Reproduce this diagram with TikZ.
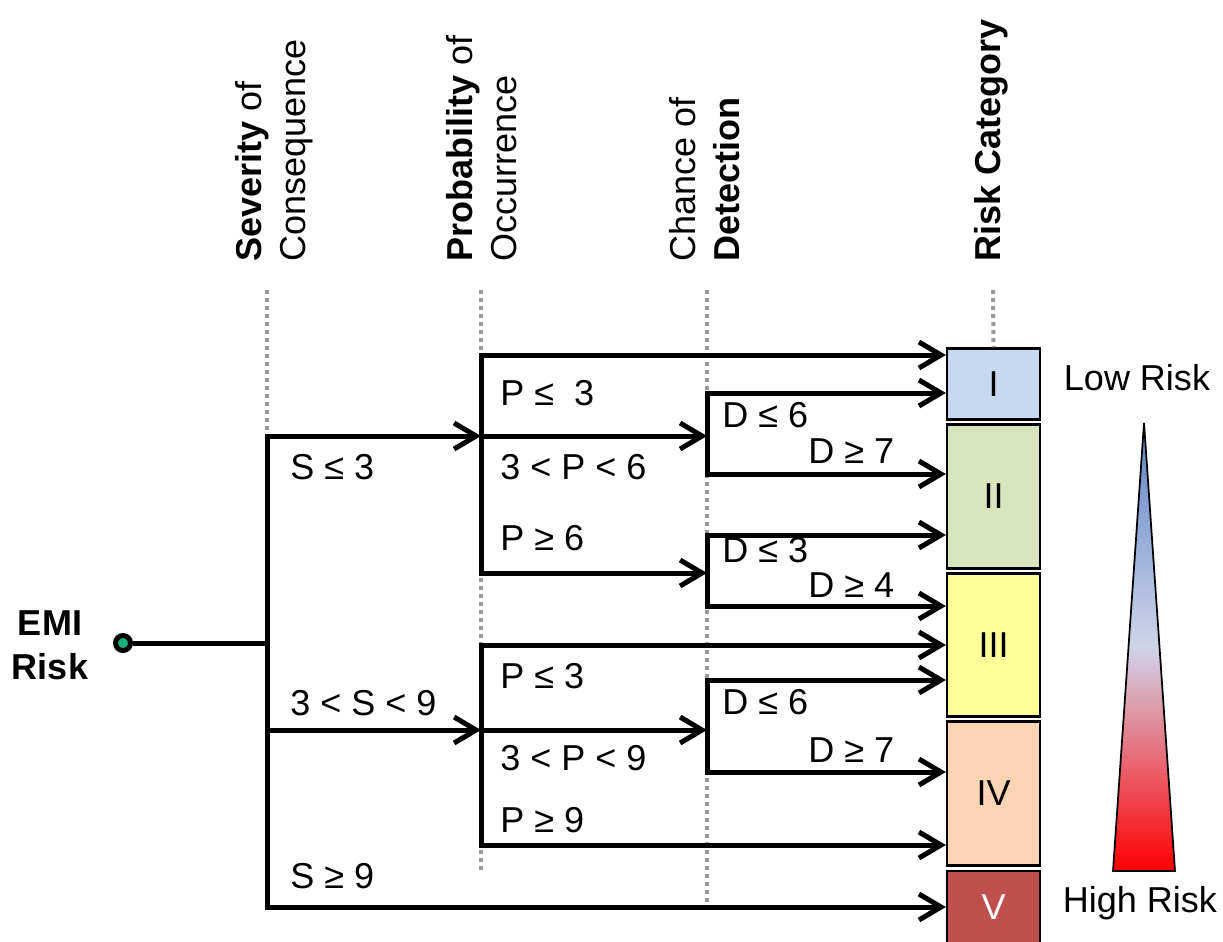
\documentclass[tikz,border=0pt]{standalone}
\usepackage{fontspec}
\setmainfont{Liberation Sans}
\usetikzlibrary{positioning,arrows.meta,calc}

\definecolor{catone}{RGB}{198,217,241}
\definecolor{cattwo}{RGB}{215,228,189}
\definecolor{catthree}{RGB}{255,255,153}
\definecolor{catfour}{RGB}{251,212,180}
\definecolor{catfive}{RGB}{192,80,77}
\definecolor{srcgreen}{RGB}{20,180,120}

\begin{document}
\begin{tikzpicture}[x=0.02cm, y=-0.02cm,
  every node/.style={font=\fontsize{20.5}{25}\selectfont, inner sep=0pt},
  cat/.style={draw, line width=0.045cm, minimum width=1.86cm},
  arr/.style={-{Straight Barb[length=4.4mm, width=5.2mm]}, line width=0.1cm},
  ln/.style={line width=0.1cm},
  guide/.style={black!40, line width=0.08cm, dash pattern=on 0.08cm off 0.08cm},
  lab/.style={anchor=base west},
  hdr/.style={rotate=90, anchor=west, align=left}]
\useasboundingbox (0,0) rectangle (1223,941);
% headers
\node[hdr] (hsev) at (274,262) {\textbf{Severity} of\\Consequence};
\node[hdr] (hprob) at (482,262) {\textbf{Probability} of\\Occurrence};
\node[hdr] (hdet) at (705,262) {Chance of\\\textbf{Detection}};
\node[hdr, font=\fontsize{20.5}{25}\selectfont\bfseries] (hcat) at (991,262) {Risk Category};
% risk categories
\node[cat, fill=catone, minimum height=1.42cm] (catI) at (993.5,384) {I};
\node[cat, fill=cattwo, minimum height=2.88cm] (catII) at (993.5,496.5) {II};
\node[cat, fill=catthree, minimum height=2.86cm] (catIII) at (993.5,645) {III};
\node[cat, fill=catfour, minimum height=2.88cm] (catIV) at (993.5,793.5) {IV};
\node[cat, fill=catfive, text=white, minimum height=1.44cm] (catV) at (993.5,907) {V};
% guides
\draw[guide] (267,290) -- (267,905);
\draw[guide] (481,290) -- (481,870);
\draw[guide] (707,290) -- (707,905);
\draw[guide] (993,290) -- (catI.north);
% source
\node[font=\fontsize{20.5}{25}\selectfont\bfseries, align=center] (emi) at (50,645) {EMI\\Risk};
\node[circle, draw, line width=0.1cm, fill=srcgreen, minimum size=0.3cm] (src) at (123,643) {};
\coordinate (sev) at (267,643);
\coordinate (probA) at (481,436);
\coordinate (probB) at (481,730);
\coordinate (detA) at (707,436);
\coordinate (detB) at (707,573);
\coordinate (detC) at (707,730);
% tree
\draw[ln] (src) -- (sev);
\draw[arr] (sev) |- (probA);
\draw[arr] (sev) |- (probB);
\draw[arr] (sev) |- (catV);
\draw[arr] (probA) |- ($(catI.west)+(0,-29)$);
\draw[arr] (probA) -- (detA);
\draw[arr] (probA) |- (detB);
\draw[arr] (detA) |- ($(catI.west)+(0,9)$);
\draw[arr] (detA) |- ($(catII.west)+(0,-22.5)$);
\draw[arr] (detB) |- ($(catII.west)+(0,38.5)$);
\draw[arr] (detB) |- ($(catIII.west)+(0,-39)$);
\draw[arr] (probB) |- (catIII);
\draw[arr] (probB) -- (detC);
\draw[arr] (probB) |- ($(catIV.west)+(0,51.5)$);
\draw[arr] (detC) |- ($(catIII.west)+(0,35)$);
\draw[arr] (detC) |- ($(catIV.west)+(0,-21.5)$);
% branch labels
\node[lab] (s1) at (290,479) {S ≤ 3};
\node[lab] (s2) at (290,715) {3 < S < 9};
\node[lab] (s3) at (290,888) {S ≥ 9};
\node[lab] (pA1) at (500,405) {P ≤\ \ 3};
\node[lab] (pA2) at (500,479) {3 < P < 6};
\node[lab] (pA3) at (500,550) {P ≥ 6};
\node[lab] (pB1) at (500,688) {P ≤ 3};
\node[lab] (pB2) at (500,770) {3 < P < 9};
\node[lab] (pB3) at (500,832) {P ≥ 9};
\node[lab] (dA1) at (722,427) {D ≤ 6};
\node[lab] (dA2) at (808,463) {D ≥ 7};
\node[lab] (dB1) at (722,562) {D ≤ 3};
\node[lab] (dB2) at (808,597) {D ≥ 4};
\node[lab] (dC1) at (722,714) {D ≤ 6};
\node[lab] (dC2) at (808,762) {D ≥ 7};
% scale
\node[anchor=base] (low) at (1137,390) {Low Risk};
\node[anchor=base] (high) at (1140,912) {High Risk};
\shade[draw, line width=0.035cm, top color={rgb,255:red,90;green,132;blue,196},
  bottom color={rgb,255:red,255;green,0;blue,0}, middle color={rgb,255:red,208;green,212;blue,234}]
  (1144,423) -- (1175,871) -- (1113,871) -- cycle;
\end{tikzpicture}
\end{document}
